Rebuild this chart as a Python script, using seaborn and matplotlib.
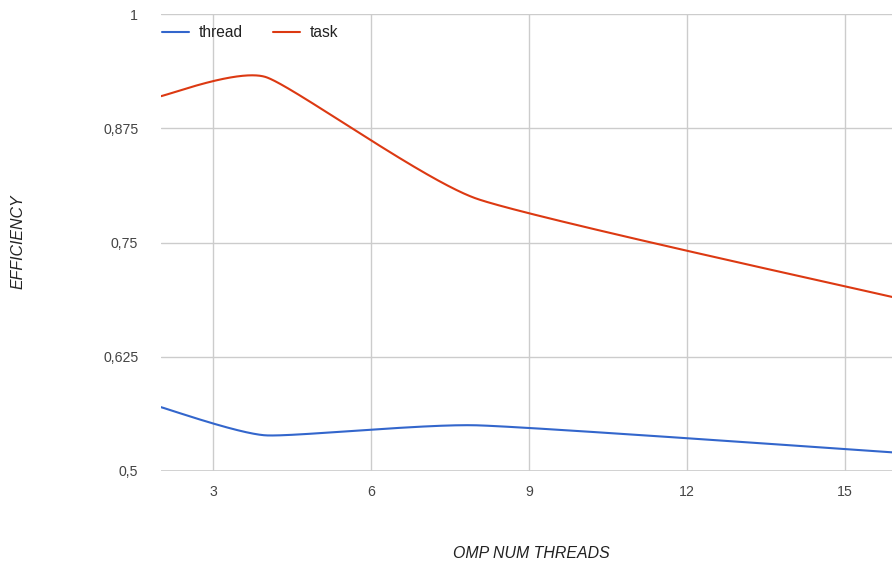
import numpy as np
import pandas as pd
import matplotlib
matplotlib.use("Agg")
import matplotlib.pyplot as plt
from matplotlib.lines import Line2D
import seaborn as sns

# Measured parallel efficiency per OMP thread count
threads = [2, 4, 8, 16]
thread_eff = [0.570, 0.539, 0.550, 0.520]
task_eff = [0.910, 0.931, 0.798, 0.689]

y_ticks = [0.5, 0.625, 0.75, 0.875, 1.0]
y_tick_labels = ["0,5", "0,625", "0,75", "0,875", "1"]
x_ticks = [3, 6, 9, 12, 15]

BLUE = "#3366cc"
RED = "#dc3912"


def smooth(xs, ys, k=0.085, n=300):
    """Piecewise cubic Bezier through the points; handles follow the
    neighbour-to-neighbour chord, scaled by k."""
    P = np.column_stack([xs, ys]).astype(float)
    m = len(P)
    d = np.zeros_like(P)
    for i in range(m):
        a = P[max(i - 1, 0)]
        b = P[min(i + 1, m - 1)]
        d[i] = (b - a) * k
    out = []
    for i in range(m - 1):
        p0, p3 = P[i], P[i + 1]
        p1, p2 = p0 + d[i], p3 - d[i + 1]
        t = np.linspace(0, 1, n, endpoint=(i == m - 2))[:, None]
        seg = ((1 - t) ** 3) * p0 + 3 * ((1 - t) ** 2) * t * p1 \
            + 3 * (1 - t) * t ** 2 * p2 + t ** 3 * p3
        out.append(seg)
    c = np.vstack(out)
    return c[:, 0], c[:, 1]


tx, ty = smooth(threads, thread_eff)
kx, ky = smooth(threads, task_eff)
df = pd.concat([
    pd.DataFrame({"threads": tx, "efficiency": ty, "mode": "thread"}),
    pd.DataFrame({"threads": kx, "efficiency": ky, "mode": "task"}),
])

sns.set_theme(style="white")
plt.rcParams["font.family"] = ["Liberation Sans", "DejaVu Sans"]

fig = plt.figure(figsize=(8.92, 5.65), dpi=100)
W, H = 892, 565
left, right, top, bottom = 160.5, 897.8, 14, 471
ax = fig.add_axes([left / W, 1 - bottom / H, (right - left) / W, (bottom - top) / H])

sns.lineplot(data=df, x="threads", y="efficiency", hue="mode",
             palette={"thread": BLUE, "task": RED}, linewidth=1.5,
             sort=False, estimator=None, ax=ax, legend=False, zorder=3)

ax.set_xlim(2, 16)
ax.set_ylim(0.5, 1.0)
ax.set_xticks(x_ticks)
ax.set_yticks(y_ticks)
ax.set_yticklabels(y_tick_labels)
ax.tick_params(axis="both", length=0, labelsize=10.2, labelcolor="#444444")
ax.tick_params(axis="x", pad=10)
ax.tick_params(axis="y", pad=16)
ax.grid(True, color="#cccccc", linewidth=1.0)
for s in ax.spines.values():
    s.set_visible(False)
ax.axhline(0.5, color="#cccccc", linewidth=1.2, zorder=2)

ax.set_xlabel("")
ax.set_ylabel("")
fig.text(531 / W, 1 - 553 / H, "OMP NUM THREADS", ha="center", va="center",
         fontsize=11.4, style="italic", color="#222222")
fig.text(18 / W, 1 - 242 / H, "EFFICIENCY", ha="center", va="center",
         rotation=90, fontsize=11.4, style="italic", color="#222222")

handles = [Line2D([], [], color=BLUE, lw=1.5), Line2D([], [], color=RED, lw=1.5)]
leg = ax.legend(handles, ["thread", "task"], loc="upper left", ncol=2,
                frameon=False, fontsize=11.2, handlelength=1.75, handletextpad=0.6,
                columnspacing=1.95, bbox_to_anchor=(162 / W, 1 - 25 / H),
                bbox_transform=fig.transFigure, borderpad=0, borderaxespad=0)
for t in leg.get_texts():
    t.set_color("#222222")

fig.savefig("out.png", dpi=100)
